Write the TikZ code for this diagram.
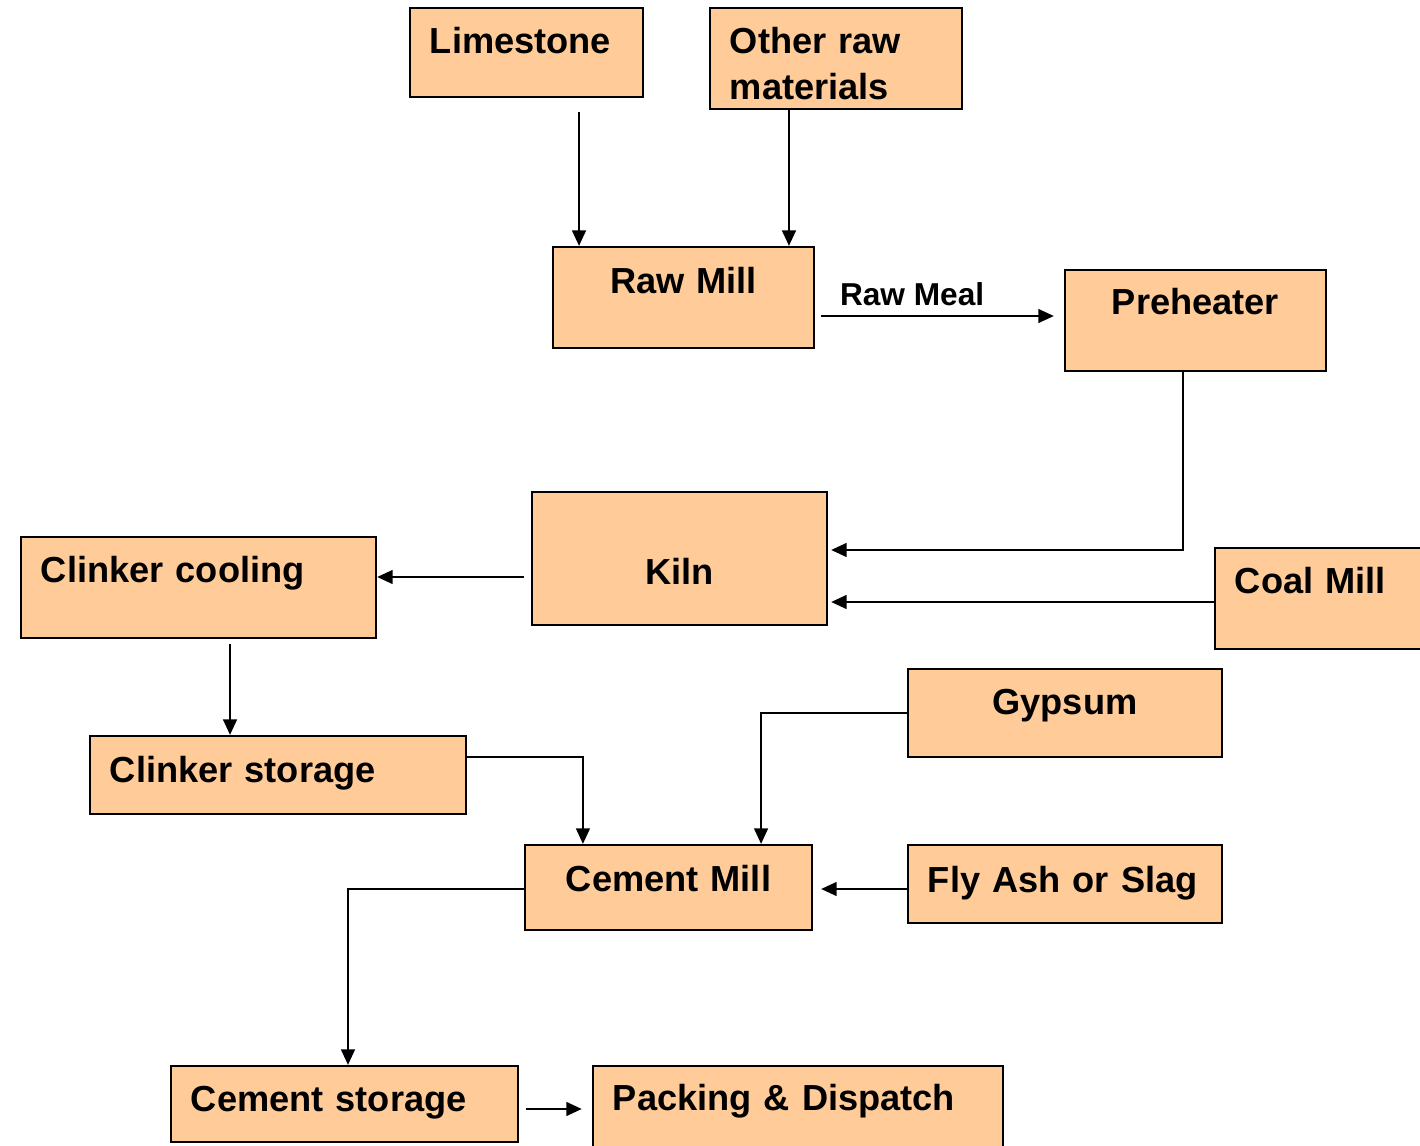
\documentclass[tikz,border=0pt]{standalone}
\usepackage{fontspec}
\setmainfont{Liberation Sans}
\usetikzlibrary{arrows.meta}
\definecolor{boxfill}{HTML}{FFCC99}
\tikzset{
  proc/.style={draw=black, fill=boxfill, line width=0.6pt, inner ysep=0pt,
    inner xsep=0.2cm, font=\fontsize{10.3}{12.8}\selectfont\bfseries},
  procl/.style={proc, align=left},
  procc/.style={proc, align=center}
  }
\tikzstyle{flow} = [draw, line width=0.6pt, -{Triangle[length=4.4pt,width=3.9pt]}]

\begin{document}
\begin{tikzpicture}[x=0.01cm, y=-0.01cm]
   \useasboundingbox (0,0) rectangle (1420,1146);

   % raw side
   \node[procl, text width=1.93cm, text height=0.46cm, text depth=0.43cm] (lime) at (526.5,52.5) {Limestone};
   \node[procl, text width=2.12cm, text height=0.46cm, text depth=0.55cm] (other) at (836,58.5) {Other raw\\materials};
   \node[procc, text width=2.21cm, text height=0.47cm, text depth=0.54cm] (raw) at (683.5,297.5) {Raw Mill};
   \node[procc, text width=2.21cm, text height=0.45cm, text depth=0.56cm] (pre) at (1195.5,320.5) {Preheater};

   % burning
   \node[procc, text width=2.55cm, text height=0.92cm, text depth=0.41cm] (kiln) at (679.5,558.5) {Kiln};
   \node[procl, text width=3.15cm, text height=0.46cm, text depth=0.55cm] (cool) at (198.5,587.5) {Clinker cooling};
   \node[procl, text width=2.21cm, text height=0.46cm, text depth=0.55cm] (coal) at (1345.5,598.5) {Coal Mill};

   % grinding and dispatch
   \node[procc, text width=2.74cm, text height=0.46cm, text depth=0.42cm] (gyp) at (1065,713) {Gypsum};
   \node[procl, text width=3.36cm, text height=0.47cm, text depth=0.31cm] (cstor) at (278,775) {Clinker storage};
   \node[procc, text width=2.47cm, text height=0.46cm, text depth=0.39cm] (cmill) at (668.5,887.5) {Cement Mill};
   \node[procl, text width=2.74cm, text height=0.47cm, text depth=0.31cm] (fly) at (1065,884) {Fly Ash or Slag};
   \node[procl, text width=3.07cm, text height=0.45cm, text depth=0.31cm] (cemst) at (344.5,1104) {Cement storage};
   \node[procl, text width=3.70cm, text height=0.45cm, text depth=0.56cm] (pack) at (798,1116.5) {Packing \& Dispatch};

   \path[flow, shorten <=0.14cm] ([xshift=0.525cm]lime.south) -- ([xshift=0.525cm]lime.south |- raw.north);
   \path[flow] ([xshift=-0.47cm]other.south) -- ([xshift=-0.47cm]other.south |- raw.north);
   \path[flow, shorten <=0.06cm, shorten >=0.1cm] ([yshift=-0.185cm]raw.east) -- node[pos=0.39, anchor=base, yshift=0.1cm, font=\fontsize{9}{11}\selectfont\bfseries] (meal) {Raw Meal} ([yshift=-0.185cm]raw.east -| pre.west);
   \path[flow, shorten >=0.03cm] ([xshift=-0.125cm]pre.south) |- ([yshift=0.085cm]kiln.east);
   \path[flow, shorten >=0.03cm] ([yshift=-0.035cm]coal.west) -- ([yshift=-0.035cm]coal.west -| kiln.east);
   \path[flow, shorten <=0.07cm] ([yshift=-0.185cm]kiln.west) -- ([yshift=-0.185cm]kiln.west -| cool.east);
   \path[flow, shorten <=0.05cm] ([xshift=0.315cm]cool.south) -- ([xshift=0.315cm]cool.south |- cstor.north);
   \path[flow] ([yshift=0.18cm]cstor.east) -| ([xshift=-0.855cm]cmill.north);
   \path[flow] (gyp.west) -| ([xshift=0.925cm]cmill.north);
   \path[flow, shorten >=0.08cm] ([yshift=-0.05cm]fly.west) -- ([yshift=-0.05cm]fly.west -| cmill.east);
   \path[flow] ([yshift=-0.015cm]cmill.west) -| ([xshift=0.035cm]cemst.north);
   \path[flow, shorten <=0.07cm, shorten >=0.1cm] ([yshift=-0.05cm]cemst.east) -- ([yshift=-0.05cm]cemst.east -| pack.west);
\end{tikzpicture}
\end{document}
